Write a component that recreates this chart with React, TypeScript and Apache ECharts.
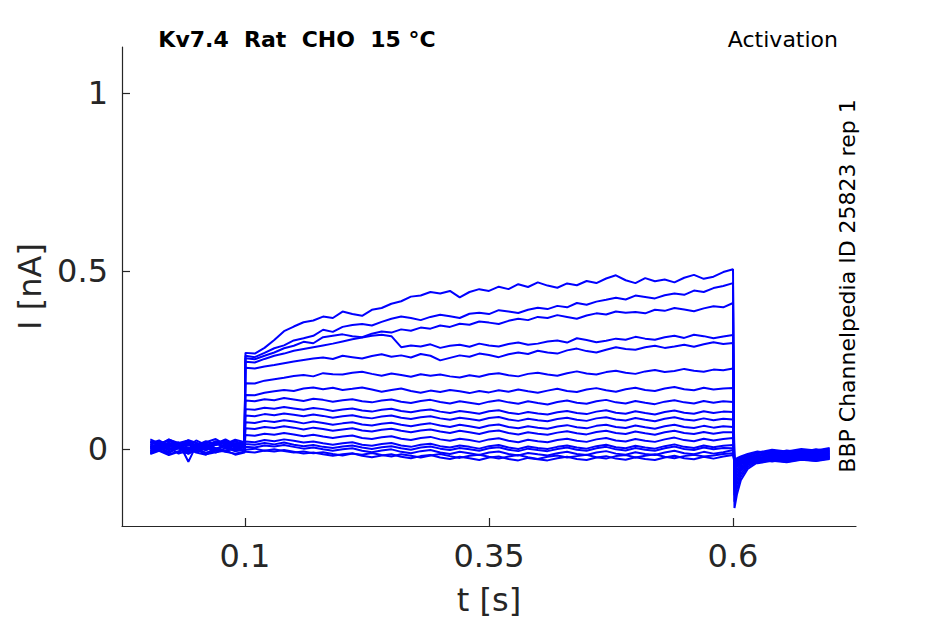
import React, { useEffect, useRef } from "react";
import * as echarts from "echarts";

// time samples [s]: baseline (11), pulse 0.1 - 0.6 (51), tail (10)
const times = [
  0.003, 0.012, 0.022, 0.032, 0.042, 0.05, 0.06, 0.07, 0.08, 0.09, 0.0995,
  0.1005, 0.11, 0.12, 0.13, 0.14, 0.15, 0.16, 0.17, 0.18, 0.19,
  0.2, 0.21, 0.22, 0.23, 0.24, 0.25, 0.26, 0.27, 0.28, 0.29,
  0.3, 0.31, 0.32, 0.33, 0.34, 0.35, 0.36, 0.37, 0.38, 0.39,
  0.4, 0.41, 0.42, 0.43, 0.44, 0.45, 0.46, 0.47, 0.48, 0.49,
  0.5, 0.51, 0.52, 0.53, 0.54, 0.55, 0.56, 0.57, 0.58, 0.59,
  0.6,
  0.6015, 0.604, 0.608, 0.615, 0.625, 0.64, 0.655, 0.67, 0.685, 0.699,
];

// current traces [nA]
const tr01 = [
  0.012, 0.021, 0.006, 0.017, 0.009, 0.024, 0.011, 0.019, 0.005, 0.016, 0.013,
  0.270, 0.268, 0.284, 0.306, 0.331, 0.344, 0.356, 0.361, 0.372, 0.368,
  0.386, 0.379, 0.374, 0.391, 0.396, 0.408, 0.415, 0.428, 0.431, 0.441,
  0.437, 0.444, 0.426, 0.441, 0.449, 0.444, 0.456, 0.449, 0.463, 0.455,
  0.468, 0.459, 0.453, 0.465, 0.460, 0.472, 0.466, 0.479, 0.488, 0.474,
  0.466, 0.480, 0.471, 0.476, 0.468, 0.481, 0.489, 0.478, 0.484, 0.497,
  0.505,
  -0.166, -0.128, -0.088, -0.056, -0.038, -0.030, -0.034, -0.026, -0.029, -0.022];
const tr02 = [
  0.004, -0.006, 0.013, 0.001, 0.018, 0.007, -0.003, 0.012, 0.020, 0.003, 0.009,
  0.262, 0.258, 0.270, 0.283, 0.291, 0.305, 0.311, 0.318, 0.335, 0.329,
  0.343, 0.348, 0.351, 0.347, 0.357, 0.366, 0.372, 0.368, 0.362, 0.371,
  0.377, 0.373, 0.368, 0.380, 0.383, 0.379, 0.390, 0.386, 0.382, 0.391,
  0.397, 0.393, 0.402, 0.398, 0.410, 0.405, 0.414, 0.419, 0.425, 0.420,
  0.431, 0.427, 0.423, 0.432, 0.437, 0.433, 0.445, 0.441, 0.452, 0.458,
  0.466,
  -0.148, -0.112, -0.078, -0.050, -0.034, -0.025, -0.029, -0.022, -0.025, -0.018];
const tr03 = [
  -0.002, 0.010, 0.018, 0.004, -0.008, 0.006, 0.015, 0.000, 0.009, 0.022, 0.006,
  0.255, 0.252, 0.262, 0.271, 0.283, 0.290, 0.301, 0.297, 0.314, 0.318,
  0.322, 0.317, 0.314, 0.324, 0.330, 0.327, 0.336, 0.332, 0.341, 0.338,
  0.347, 0.343, 0.352, 0.349, 0.358, 0.355, 0.351, 0.360, 0.366, 0.362,
  0.371, 0.368, 0.376, 0.371, 0.366, 0.375, 0.381, 0.378, 0.386, 0.383,
  0.385, 0.381, 0.391, 0.388, 0.396, 0.392, 0.387, 0.395, 0.401, 0.398,
  0.410,
  -0.130, -0.098, -0.069, -0.045, -0.030, -0.021, -0.025, -0.018, -0.021, -0.015];
const tr04 = [
  0.016, 0.024, 0.008, 0.019, -0.036, 0.010, 0.022, 0.013, 0.025, 0.011, 0.017,
  0.245, 0.243, 0.253, 0.262, 0.268, 0.276, 0.281, 0.286, 0.291, 0.296,
  0.302, 0.308, 0.313, 0.318, 0.321, 0.317, 0.286, 0.291, 0.288, 0.294,
  0.284, 0.290, 0.293, 0.287, 0.296, 0.291, 0.288, 0.295, 0.299, 0.293,
  0.296, 0.302, 0.305, 0.299, 0.311, 0.306, 0.300, 0.304, 0.310, 0.307,
  0.315, 0.310, 0.307, 0.314, 0.318, 0.312, 0.321, 0.317, 0.311, 0.316,
  0.320,
  -0.115, -0.086, -0.061, -0.041, -0.027, -0.035, -0.028, -0.031, -0.024, -0.027];
const tr05 = [
  -0.007, 0.003, -0.012, 0.008, 0.001, -0.009, 0.005, -0.004, 0.010, -0.006, 0.001,
  0.228, 0.226, 0.232, 0.236, 0.241, 0.246, 0.250, 0.254, 0.257, 0.253,
  0.262, 0.258, 0.254, 0.261, 0.266, 0.259, 0.263, 0.257, 0.267, 0.262,
  0.249, 0.256, 0.263, 0.259, 0.268, 0.264, 0.258, 0.266, 0.271, 0.267,
  0.276, 0.271, 0.268, 0.277, 0.282, 0.275, 0.271, 0.279, 0.286, 0.281,
  0.279, 0.286, 0.290, 0.284, 0.288, 0.293, 0.287, 0.294, 0.300, 0.295,
  0.298,
  -0.100, -0.076, -0.055, -0.038, -0.025, -0.018, -0.022, -0.015, -0.019, -0.012];
const tr06 = [
  0.009, -0.003, 0.006, 0.014, -0.005, 0.012, 0.002, 0.018, 0.004, 0.011, 0.005,
  0.185, 0.184, 0.192, 0.196, 0.200, 0.205, 0.208, 0.204, 0.213, 0.210,
  0.209, 0.214, 0.217, 0.211, 0.206, 0.212, 0.208, 0.203, 0.210, 0.206,
  0.209, 0.204, 0.201, 0.207, 0.203, 0.210, 0.213, 0.207, 0.204, 0.211,
  0.214, 0.209, 0.206, 0.213, 0.218, 0.212, 0.209, 0.216, 0.220, 0.214,
  0.211, 0.218, 0.222, 0.216, 0.219, 0.225, 0.220, 0.217, 0.223, 0.221,
  0.226,
  -0.086, -0.066, -0.049, -0.035, -0.023, -0.030, -0.024, -0.028, -0.021, -0.024];
const tr07 = [
  0.020, 0.009, 0.027, 0.014, 0.023, 0.006, 0.019, 0.028, 0.012, 0.021, 0.015,
  0.152, 0.151, 0.158, 0.162, 0.166, 0.163, 0.170, 0.173, 0.168, 0.172,
  0.166, 0.169, 0.173, 0.167, 0.161, 0.166, 0.170, 0.163, 0.158, 0.164,
  0.160, 0.166, 0.162, 0.157, 0.163, 0.159, 0.165, 0.161, 0.167, 0.162,
  0.158, 0.164, 0.169, 0.163, 0.160, 0.167, 0.171, 0.165, 0.161, 0.168,
  0.172, 0.166, 0.163, 0.170, 0.174, 0.168, 0.165, 0.172, 0.167, 0.170,
  0.171,
  -0.074, -0.058, -0.044, -0.032, -0.021, -0.014, -0.019, -0.012, -0.016, -0.009];
const tr08 = [
  -0.010, -0.001, 0.005, -0.013, -0.004, 0.003, -0.011, 0.001, -0.007, 0.004, -0.003,
  0.136, 0.134, 0.140, 0.137, 0.143, 0.139, 0.135, 0.141, 0.138, 0.133,
  0.137, 0.140, 0.134, 0.131, 0.136, 0.139, 0.133, 0.129, 0.135, 0.138,
  0.132, 0.128, 0.134, 0.130, 0.126, 0.133, 0.137, 0.131, 0.127, 0.134,
  0.129, 0.125, 0.132, 0.136, 0.130, 0.127, 0.134, 0.138, 0.131, 0.128,
  0.135, 0.130, 0.126, 0.133, 0.137, 0.131, 0.128, 0.135, 0.130, 0.134,
  0.132,
  -0.064, -0.051, -0.040, -0.030, -0.036, -0.027, -0.032, -0.025, -0.029, -0.022];
const tr09 = [
  0.006, 0.015, -0.002, 0.010, 0.019, 0.001, 0.013, -0.004, 0.016, 0.007, 0.010,
  0.112, 0.110, 0.116, 0.113, 0.118, 0.114, 0.110, 0.115, 0.112, 0.107,
  0.111, 0.114, 0.108, 0.105, 0.110, 0.113, 0.107, 0.103, 0.108, 0.111,
  0.105, 0.101, 0.107, 0.103, 0.099, 0.106, 0.109, 0.102, 0.098, 0.104,
  0.100, 0.097, 0.103, 0.107, 0.101, 0.098, 0.105, 0.109, 0.102, 0.099,
  0.106, 0.101, 0.097, 0.104, 0.108, 0.102, 0.099, 0.106, 0.101, 0.105,
  0.104,
  -0.056, -0.046, -0.037, -0.028, -0.019, -0.011, -0.016, -0.009, -0.013, -0.006];
const tr10 = [
  0.027, 0.016, 0.023, 0.011, 0.025, 0.018, 0.009, 0.022, 0.014, 0.026, 0.019,
  0.094, 0.092, 0.098, 0.095, 0.100, 0.096, 0.092, 0.097, 0.093, 0.088,
  0.092, 0.095, 0.089, 0.086, 0.091, 0.094, 0.088, 0.084, 0.089, 0.092,
  0.086, 0.082, 0.088, 0.084, 0.080, 0.087, 0.090, 0.083, 0.079, 0.085,
  0.081, 0.078, 0.084, 0.088, 0.082, 0.079, 0.086, 0.089, 0.083, 0.080,
  0.087, 0.082, 0.078, 0.085, 0.089, 0.083, 0.080, 0.086, 0.081, 0.085,
  0.083,
  -0.050, -0.042, -0.034, -0.026, -0.032, -0.024, -0.029, -0.022, -0.026, -0.019];
const tr11 = [
  -0.005, 0.007, -0.009, 0.002, -0.014, -0.001, 0.006, -0.010, 0.003, -0.006, -0.002,
  0.075, 0.073, 0.079, 0.076, 0.081, 0.077, 0.072, 0.077, 0.073, 0.068,
  0.072, 0.075, 0.069, 0.066, 0.071, 0.074, 0.068, 0.064, 0.069, 0.072,
  0.066, 0.062, 0.068, 0.064, 0.059, 0.066, 0.069, 0.062, 0.058, 0.064,
  0.060, 0.057, 0.063, 0.067, 0.061, 0.058, 0.065, 0.068, 0.062, 0.059,
  0.066, 0.061, 0.057, 0.064, 0.068, 0.062, 0.059, 0.065, 0.060, 0.064,
  0.062,
  -0.045, -0.038, -0.031, -0.024, -0.016, -0.008, -0.013, -0.006, -0.010, -0.003];
const tr12 = [
  0.013, 0.002, 0.017, 0.008, 0.000, 0.015, 0.006, 0.011, 0.021, 0.004, 0.012,
  0.058, 0.056, 0.062, 0.059, 0.064, 0.060, 0.055, 0.060, 0.056, 0.051,
  0.055, 0.058, 0.052, 0.049, 0.054, 0.057, 0.051, 0.047, 0.052, 0.055,
  0.049, 0.045, 0.051, 0.047, 0.042, 0.049, 0.052, 0.045, 0.041, 0.047,
  0.043, 0.040, 0.046, 0.050, 0.044, 0.041, 0.048, 0.051, 0.045, 0.042,
  0.049, 0.044, 0.040, 0.047, 0.051, 0.045, 0.042, 0.048, 0.043, 0.047,
  0.047,
  -0.041, -0.035, -0.029, -0.022, -0.028, -0.020, -0.025, -0.018, -0.022, -0.015];
const tr13 = [
  0.001, 0.011, -0.004, 0.006, 0.014, -0.006, 0.009, 0.002, -0.005, 0.012, 0.004,
  0.039, 0.037, 0.043, 0.040, 0.045, 0.041, 0.036, 0.040, 0.035, 0.031,
  0.035, 0.038, 0.031, 0.028, 0.033, 0.036, 0.029, 0.025, 0.031, 0.034,
  0.027, 0.023, 0.029, 0.025, 0.020, 0.027, 0.030, 0.023, 0.019, 0.026,
  0.022, 0.019, 0.025, 0.029, 0.023, 0.020, 0.027, 0.031, 0.024, 0.021,
  0.028, 0.023, 0.020, 0.027, 0.032, 0.025, 0.022, 0.029, 0.024, 0.028,
  0.031,
  -0.038, -0.033, -0.027, -0.020, -0.012, -0.005, -0.010, -0.003, -0.007, 0.000];
const tr14 = [
  0.008, -0.002, 0.012, 0.017, 0.003, 0.010, -0.004, 0.014, 0.007, -0.001, 0.008,
  0.021, 0.019, 0.025, 0.022, 0.027, 0.023, 0.018, 0.021, 0.016, 0.012,
  0.016, 0.019, 0.012, 0.009, 0.014, 0.017, 0.010, 0.006, 0.012, 0.015,
  0.008, 0.004, 0.010, 0.006, 0.001, 0.008, 0.011, 0.004, 0.000, 0.007,
  0.003, 0.000, 0.006, 0.010, 0.004, 0.001, 0.008, 0.012, 0.005, 0.002,
  0.009, 0.004, 0.001, 0.008, 0.013, 0.006, 0.003, 0.010, 0.005, 0.009,
  0.011,
  -0.036, -0.031, -0.036, -0.030, -0.038, -0.031, -0.036, -0.029, -0.033, -0.026];
const tr15 = [
  -0.012, -0.003, -0.015, -0.006, 0.002, -0.010, -0.016, -0.002, -0.008, -0.013, -0.007,
  0.006, 0.004, 0.010, 0.007, 0.011, 0.006, 0.001, 0.004, -0.001, -0.005,
  -0.001, 0.002, -0.005, -0.009, -0.004, -0.001, -0.008, -0.012, -0.006, -0.003,
  -0.010, -0.014, -0.008, -0.012, -0.017, -0.010, -0.007, -0.014, -0.018, -0.011,
  -0.015, -0.018, -0.012, -0.008, -0.014, -0.017, -0.010, -0.006, -0.013, -0.016,
  -0.009, -0.014, -0.017, -0.010, -0.005, -0.012, -0.015, -0.008, -0.013, -0.009,
  -0.003,
  -0.034, -0.029, -0.024, -0.017, -0.010, -0.002, -0.007, 0.000, -0.004, 0.003];
const tr16 = [
  0.004, 0.014, 0.000, 0.009, -0.006, 0.007, 0.016, 0.001, 0.010, -0.003, 0.006,
  -0.008, -0.010, -0.004, -0.007, -0.003, -0.008, -0.013, -0.010, -0.015, -0.019,
  -0.015, -0.012, -0.019, -0.023, -0.018, -0.015, -0.022, -0.026, -0.020, -0.017,
  -0.024, -0.028, -0.022, -0.026, -0.031, -0.024, -0.021, -0.028, -0.032, -0.025,
  -0.029, -0.032, -0.026, -0.022, -0.028, -0.031, -0.024, -0.020, -0.027, -0.030,
  -0.023, -0.028, -0.031, -0.024, -0.019, -0.026, -0.029, -0.022, -0.027, -0.021,
  -0.017,
  -0.033, -0.028, -0.033, -0.027, -0.020, -0.014, -0.019, -0.012, -0.016, -0.010];
const tr17 = [
  0.022, 0.013, 0.026, 0.017, 0.024, 0.010, 0.020, 0.015, 0.027, 0.012, 0.018,
  0.014, 0.012, 0.017, 0.013, 0.018, 0.012, 0.008, 0.011, 0.006, 0.003,
  0.007, 0.010, 0.004, 0.000, 0.005, 0.008, 0.002, -0.002, 0.004, 0.007,
  0.001, -0.003, 0.003, -0.001, -0.005, 0.002, 0.005, -0.002, -0.006, 0.001,
  -0.003, -0.006, 0.000, 0.004, -0.002, -0.005, 0.002, 0.006, -0.001, -0.004,
  0.003, -0.002, -0.005, 0.002, 0.007, 0.000, -0.003, 0.004, -0.001, 0.003,
  0.002,
  -0.030, -0.026, -0.021, -0.014, -0.007, -0.013, -0.004, -0.009, -0.001, -0.006];
const tr18 = [
  -0.014, -0.005, -0.017, -0.008, -0.012, -0.001, -0.015, -0.009, -0.004, -0.016, -0.010,
  -0.002, 0.001, -0.005, -0.001, -0.006, -0.010, -0.007, -0.012, -0.009, -0.014,
  -0.018, -0.013, -0.016, -0.011, -0.017, -0.021, -0.015, -0.019, -0.024, -0.018,
  -0.014, -0.020, -0.025, -0.019, -0.016, -0.022, -0.027, -0.021, -0.017, -0.023,
  -0.028, -0.022, -0.018, -0.024, -0.020, -0.016, -0.023, -0.027, -0.020, -0.017,
  -0.024, -0.019, -0.015, -0.022, -0.026, -0.020, -0.016, -0.021, -0.018, -0.014,
  -0.012,
  -0.040, -0.036, -0.039, -0.034, -0.040, -0.033, -0.037, -0.030, -0.034, -0.028];

const traces = [tr01, tr02, tr03, tr04, tr05, tr06, tr07, tr08, tr09, tr10, tr11, tr12, tr13, tr14, tr15, tr16, tr17, tr18];

const xTicks = [0.1, 0.35, 0.6];
const yTicks = [0, 0.5, 1];

const titleText = "Kv7.4  Rat  CHO  15 °C";
const protocolText = "Activation";
const sideText = "BBP Channelpedia ID 25823 rep 1";

export default function App() {
  const ref = useRef<HTMLDivElement>(null);
  useEffect(() => {
    document.body.style.margin = "0";
    const chart = echarts.init(ref.current as HTMLDivElement, null, { renderer: "svg" });
    const font = "DejaVu Sans";
    const axisColor = "#262626";
    const series = traces.map((tr, i) => ({
      type: "line",
      name: "trace" + (i + 1),
      data: times.map((t, k) => [t, tr[k]]),
      showSymbol: false,
      symbol: "none",
      lineStyle: { color: "#0000ff", width: 2 },
      emphasis: { disabled: true },
    }));
    chart.setOption({
      animation: false,
      backgroundColor: "#ffffff",
      textStyle: { fontFamily: font },
      grid: { left: 122, right: 89, top: 47, bottom: 98, containLabel: false, outerBoundsMode: "none" },
      xAxis: {
        type: "value",
        min: -0.026,
        max: 0.726,
        name: "t [s]",
        nameLocation: "middle",
        nameGap: 58,
        nameTextStyle: { fontSize: 32, color: axisColor, fontFamily: font },
        axisLine: { onZero: false, lineStyle: { color: axisColor, width: 1.2 } },
        axisTick: { inside: true, length: 8, customValues: xTicks, lineStyle: { color: axisColor, width: 1.2 } },
        axisLabel: { customValues: xTicks, fontSize: 32, color: axisColor, margin: 14, fontFamily: font },
        splitLine: { show: false },
      },
      yAxis: {
        type: "value",
        min: -0.2163,
        max: 1.1292,
        name: "I [nA]",
        nameLocation: "middle",
        nameGap: 75,
        nameTextStyle: { fontSize: 32, color: axisColor, fontFamily: font },
        axisLine: { show: true, onZero: false, lineStyle: { color: axisColor, width: 1.2 } },
        axisTick: { show: true, inside: true, length: 8, customValues: yTicks, lineStyle: { color: axisColor, width: 1.2 } },
        axisLabel: { customValues: yTicks, fontSize: 32, color: axisColor, margin: 14, fontFamily: font },
        splitLine: { show: false },
      },
      graphic: [
        {
          type: "text",
          x: 297,
          y: 39,
          style: { text: titleText, font: "bold 22px 'DejaVu Sans'", fill: "#000000", align: "center", verticalAlign: "middle" },
        },
        {
          type: "text",
          x: 838,
          y: 39,
          style: { text: protocolText, font: "22px 'DejaVu Sans'", fill: "#000000", align: "right", verticalAlign: "middle" },
        },
        {
          type: "text",
          x: 847,
          y: 286,
          rotation: Math.PI / 2,
          style: { text: sideText, font: "22px 'DejaVu Sans'", fill: "#000000", align: "center", verticalAlign: "middle" },
        },
      ],
      series,
    });
    return () => chart.dispose();
  }, []);
  return <div ref={ref} style={{ width: 945, height: 624 }} />;
}
